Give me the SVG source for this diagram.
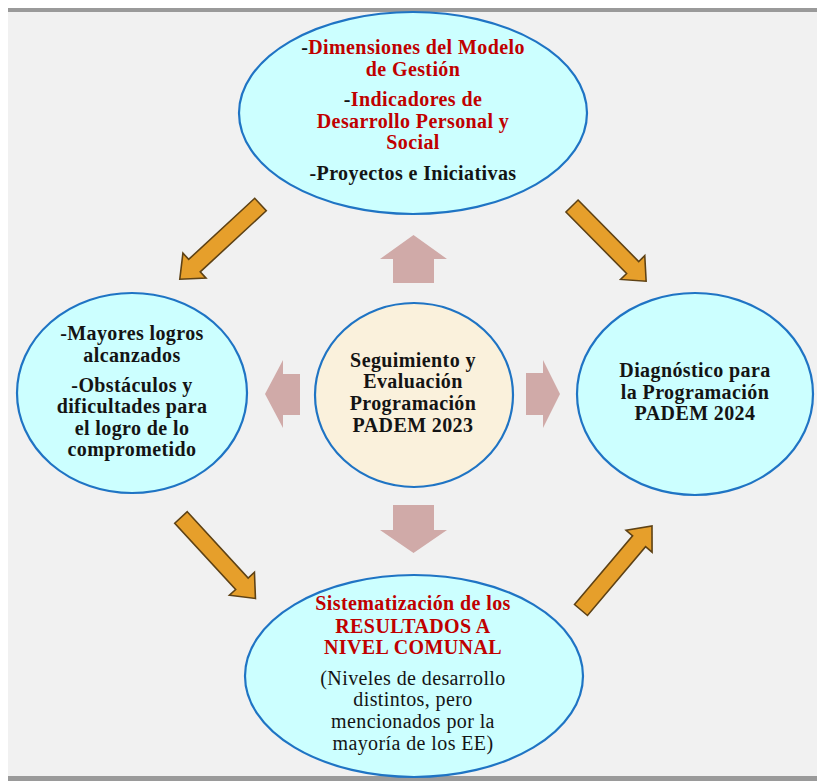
<svg xmlns="http://www.w3.org/2000/svg" width="817" height="781" viewBox="0 0 817 781">
<defs>
<style>
.bg{fill:#f1f1f1}
.bar{fill:#9a9a9a}
.node{fill:#ccffff;stroke:#1f74c4;stroke-width:2.2}
.core{fill:#faf1dc;stroke:#1f74c4;stroke-width:2.2}
.t{font-family:"Liberation Serif","Times New Roman",serif;font-size:20px;letter-spacing:0.4px;font-weight:bold;fill:#141414;text-anchor:middle}
.r{fill:#c00000}
.n{font-weight:normal}
.orange{fill:#e69f2b;stroke:#5e4215;stroke-width:1.6;stroke-linejoin:miter}
.pink{fill:#d0aaa8}
</style>
<path id="oa" d="M0,-8.5 L90,-8.5 L90,-17 L110,0 L90,17 L90,8.5 L0,8.5 Z"/>
</defs>
<rect class="bg" x="8" y="8" width="809" height="773"/>
<rect class="bar" x="8" y="8" width="809" height="4"/>
<rect class="bar" x="8" y="776" width="809" height="5"/>

<g id="connectors">
<use href="#oa" class="orange" transform="translate(260.5,204.5) rotate(137.2)"/>
<use href="#oa" class="orange" transform="translate(572,206) rotate(45.4) scale(0.96,1)"/>
<use href="#oa" class="orange" transform="translate(181,517.5) rotate(47.4)"/>
<use href="#oa" class="orange" transform="translate(581,610) rotate(-49.8)"/>
<polygon class="pink" points="393,283 393,259 380,259 413.5,235 447,259 434,259 434,283"/>
<polygon class="pink" points="393,505 434,505 434,530 447,530 413.5,553 380,530 393,530"/>
<polygon class="pink" points="526,373 543,373 543,360 560,394 543,428 543,415 526,415"/>
<polygon class="pink" points="300,374 283,374 283,360 265,394 283,428 283,415 300,415"/>
</g>

<g id="node-top">
<ellipse class="node" cx="413" cy="113" rx="174" ry="101"/>
<text class="t" x="413" y="54">-<tspan class="r">Dimensiones del Modelo</tspan></text>
<text class="t r" x="413" y="76">de Gestión</text>
<text class="t" x="413" y="106">-<tspan class="r">Indicadores de</tspan></text>
<text class="t r" x="413" y="128">Desarrollo Personal y</text>
<text class="t r" x="413" y="149">Social</text>
<text class="t" x="413" y="180">-Proyectos e Iniciativas</text>
</g>

<g id="node-left">
<ellipse class="node" cx="132" cy="393" rx="115" ry="100"/>
<text class="t" x="132" y="340">-Mayores logros</text>
<text class="t" x="132" y="362">alcanzados</text>
<text class="t" x="132" y="392">-Obstáculos y</text>
<text class="t" x="132" y="413">dificultades para</text>
<text class="t" x="132" y="435">el logro de lo</text>
<text class="t" x="132" y="456">comprometido</text>
</g>

<g id="node-center">
<ellipse class="core" cx="414" cy="395" rx="99" ry="92"/>
<text class="t" x="413" y="367">Seguimiento y</text>
<text class="t" x="413" y="388">Evaluación</text>
<text class="t" x="413" y="410">Programación</text>
<text class="t" x="413" y="432">PADEM 2023</text>
</g>

<g id="node-right">
<ellipse class="node" cx="695" cy="394" rx="118" ry="101"/>
<text class="t" x="695" y="377">Diagnóstico para</text>
<text class="t" x="695" y="399">la Programación</text>
<text class="t" x="695" y="420">PADEM 2024</text>
</g>

<g id="node-bottom">
<ellipse class="node" cx="414" cy="676" rx="169" ry="101"/>
<text class="t r" x="413" y="610">Sistematización de los</text>
<text class="t r" x="413" y="633">RESULTADOS A</text>
<text class="t r" x="413" y="654">NIVEL COMUNAL</text>
<text class="t n" x="413" y="685">(Niveles de desarrollo</text>
<text class="t n" x="413" y="706">distintos, pero</text>
<text class="t n" x="413" y="728">mencionados por la</text>
<text class="t n" x="413" y="750">mayoría de los EE)</text>
</g>
</svg>
